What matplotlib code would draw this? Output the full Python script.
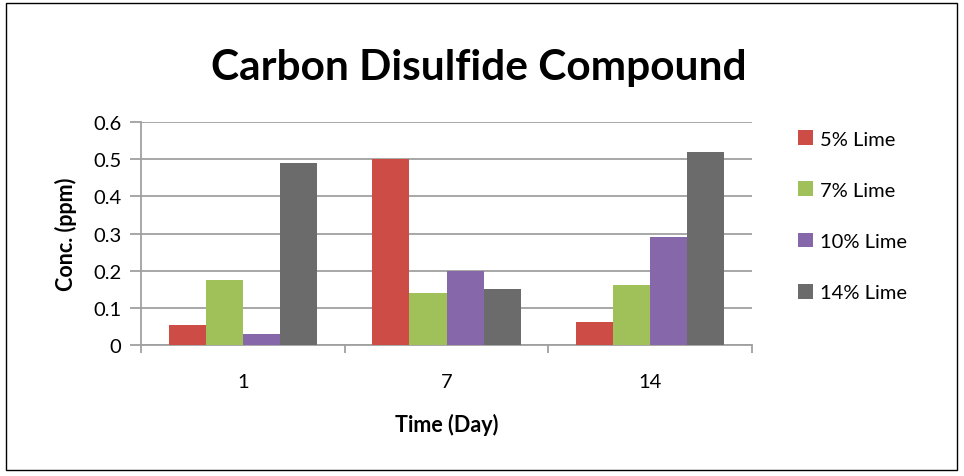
import numpy as np
import matplotlib.pyplot as plt
from matplotlib.patches import Rectangle

days = ['1', '7', '14']
series = ['5% Lime', '7% Lime', '10% Lime', '14% Lime']
lime_5 = [0.054, 0.50, 0.062]
lime_7 = [0.175, 0.14, 0.162]
lime_10 = [0.030, 0.20, 0.291]
lime_14 = [0.49, 0.151, 0.52]
colors = ['#CD4D46', '#A0C05A', '#8667AA', '#6B6B6B']

plt.rcParams['font.family'] = ['Lato', 'DejaVu Sans']

fig = plt.figure(figsize=(9.64, 4.77), dpi=100)
ax = fig.add_axes([0.1463, 0.2746, 0.6338, 0.4675])

x = np.arange(len(days))
width = 0.182
values = [lime_5, lime_7, lime_10, lime_14]
for i, (vals, name) in enumerate(zip(values, series)):
    ax.bar(x + (i - 1.5) * width, vals, width, color=colors[i], label=name, zorder=3)

ax.set_xlim(-0.5, 2.5)
ax.set_ylim(0, 0.6)
ax.set_yticks(np.arange(0, 0.61, 0.1))
ax.set_yticklabels(['0', '0.1', '0.2', '0.3', '0.4', '0.5', '0.6'])
ax.set_xticks(x)
ax.set_xticklabels(days)
ax.set_xticks([-0.5, 0.5, 1.5, 2.5], minor=True)
ax.tick_params(axis='x', which='major', length=0, pad=20, labelsize=14.5)
ax.tick_params(axis='x', which='minor', length=6, color='#A0A0A0', width=1.3)
ax.tick_params(axis='y', length=8, color='#A0A0A0', width=1.3, labelsize=14.5, pad=6)
ax.grid(axis='y', color='#A0A0A0', linewidth=1.3, zorder=0)

for side in ['top', 'right']:
    ax.spines[side].set_visible(False)
for side in ['left', 'bottom']:
    ax.spines[side].set_color('#A0A0A0')
    ax.spines[side].set_linewidth(1.3)

ax.set_xlabel('Time (Day)', fontsize=15.5, fontweight='bold', labelpad=17)
ax.set_ylabel('Conc. (ppm)', fontsize=15.5, fontweight='bold', labelpad=12)
fig.text(0.497, 0.858, 'Carbon Disulfide Compound', fontsize=30.5, fontweight='bold',
         ha='center', va='center')

ax.legend(loc='upper left', bbox_to_anchor=(1.045, 1.045), frameon=False,
          fontsize=14.5, handlelength=0.75, handleheight=0.75, labelspacing=1.68,
          handletextpad=0.35)

fig.add_artist(Rectangle((0.006, 0.013), 0.987, 0.978, transform=fig.transFigure,
                         fill=False, edgecolor='black', linewidth=1))

plt.savefig('out.png', dpi=100)
